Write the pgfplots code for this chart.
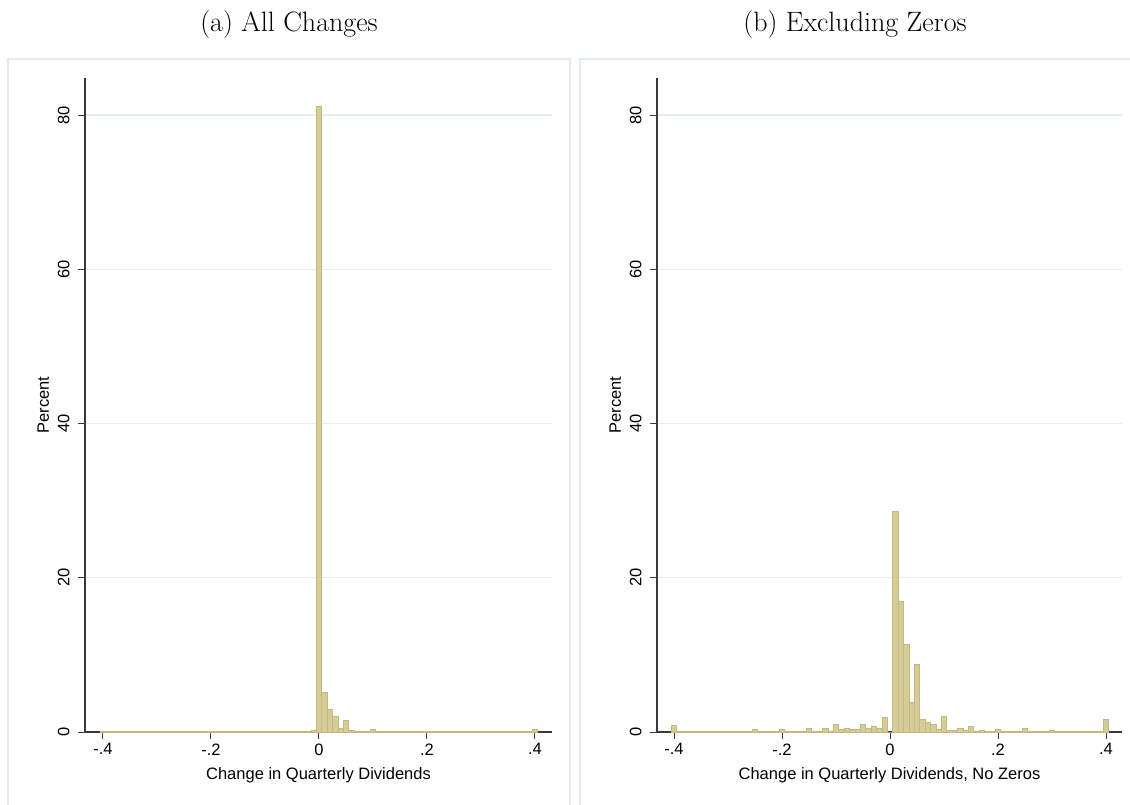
\documentclass[border=0pt]{standalone}
\usepackage{fontspec}
\usepackage{pgfplots}
\pgfplotsset{compat=1.18}
\newfontfamily\arial{Liberation Sans}
\definecolor{barfill}{HTML}{D5CC98}
\definecolor{barline}{HTML}{C2B880}
\definecolor{gridc}{HTML}{E6EEF0}
\definecolor{framec}{HTML}{E2ECEE}
\definecolor{axc}{HTML}{3A3A3A}
\pgfplotsset{
  stata/.style={
    scale only axis, height=654pt,
    anchor=south west,
    axis lines*=left,
    ymin=0, ymax=84.8,
    xtick={-0.4,-0.2,0,0.2,0.4}, xticklabels={-.4,-.2,0,.2,.4},
    ytick={0,20,40,60,80}, yticklabels={0,20,40,60,80},
    tick align=outside, major tick length=7pt,
    every tick/.style={axc, line width=1pt},
    axis line style={axc, line width=1.1pt},
    ymajorgrids, major grid style={gridc, line width=1.3pt},
    tick label style={font=\arial\fontsize{16.5}{19}\selectfont, text=black},
    xticklabel style={yshift=-1pt},
    yticklabel style={xshift=-5pt, rotate=90, anchor=south},
    label style={font=\arial\fontsize{16.5}{19}\selectfont},
    ylabel={Percent}, ylabel shift=2pt, xlabel shift=5pt,
    ybar, bar width=0.01, bar shift=0pt,
  }
}
\begin{document}
\begin{tikzpicture}
\useasboundingbox (0,0) rectangle (1130pt,804pt);
\draw[framec, line width=1.2pt] (8pt,-5pt) -- (8pt,745pt) -- (570pt,745pt) -- (570pt,-5pt);
\draw[framec, line width=1.2pt] (580pt,-5pt) -- (580pt,745pt) -- (1140pt,745pt);
\node at (289pt,779pt) {\fontsize{28}{33}\selectfont (a) All Changes};
\node at (855pt,779pt) {\fontsize{28}{33}\selectfont (b) Excluding Zeros};

\begin{axis}[stata, at={(85pt,72pt)}, width=467pt, xmin=-0.4333, xmax=0.4315,
  xlabel={Change in Quarterly Dividends}]
\addplot[fill=barfill, draw=barline, line width=0.5pt] coordinates {
(-0.40,0.10)(-0.39,0.05)(-0.38,0.05)(-0.37,0.05)(-0.36,0.05)(-0.35,0.05)(-0.34,0.05)(-0.33,0.05)(-0.32,0.05)(-0.31,0.05)
(-0.30,0.05)(-0.29,0.05)(-0.28,0.05)(-0.27,0.05)(-0.26,0.05)(-0.25,0.08)(-0.24,0.05)(-0.23,0.05)(-0.22,0.05)(-0.21,0.05)
(-0.20,0.08)(-0.19,0.05)(-0.18,0.05)(-0.17,0.05)(-0.16,0.05)(-0.15,0.08)(-0.14,0.05)(-0.13,0.05)(-0.12,0.05)(-0.11,0.05)
(-0.10,0.10)(-0.09,0.05)(-0.08,0.05)(-0.07,0.05)(-0.06,0.05)(-0.05,0.10)(-0.04,0.05)(-0.03,0.08)(-0.02,0.05)(-0.01,0.20)
(0.00,81.2)(0.01,5.2)(0.02,3.0)(0.03,2.0)(0.04,0.5)(0.05,1.5)(0.06,0.2)(0.07,0.1)(0.08,0.05)(0.09,0.05)
(0.10,0.30)(0.11,0.05)(0.12,0.05)(0.13,0.05)(0.14,0.05)(0.15,0.08)(0.16,0.05)(0.17,0.05)(0.18,0.05)(0.19,0.05)
(0.20,0.08)(0.21,0.05)(0.22,0.05)(0.23,0.05)(0.24,0.05)(0.25,0.08)(0.26,0.05)(0.27,0.05)(0.28,0.05)(0.29,0.05)
(0.30,0.05)(0.31,0.05)(0.32,0.05)(0.33,0.05)(0.34,0.05)(0.35,0.05)(0.36,0.05)(0.37,0.05)(0.38,0.05)(0.39,0.05)
(0.40,0.30)
};
\end{axis}

\begin{axis}[stata, at={(657pt,72pt)}, width=465pt, xmin=-0.4315, xmax=0.4296,
  xlabel={Change in Quarterly Dividends, No Zeros}]
\addplot[fill=barfill, draw=barline, line width=0.5pt] coordinates {
(-0.40,0.90)(-0.39,0.10)(-0.38,0.10)(-0.37,0.10)(-0.36,0.10)(-0.35,0.10)(-0.34,0.10)(-0.33,0.10)(-0.32,0.10)(-0.31,0.10)
(-0.30,0.10)(-0.29,0.10)(-0.28,0.10)(-0.27,0.10)(-0.26,0.10)(-0.25,0.35)(-0.24,0.10)(-0.23,0.10)(-0.22,0.10)(-0.21,0.10)
(-0.20,0.30)(-0.19,0.10)(-0.18,0.10)(-0.17,0.10)(-0.16,0.10)(-0.15,0.55)(-0.14,0.10)(-0.13,0.10)(-0.12,0.50)(-0.11,0.15)
(-0.10,0.96)(-0.09,0.30)(-0.08,0.50)(-0.07,0.40)(-0.06,0.40)(-0.05,0.96)(-0.04,0.50)(-0.03,0.75)(-0.02,0.50)(-0.01,1.90)
(0.00,0.00)(0.01,28.6)(0.02,17.0)(0.03,11.4)(0.04,3.8)(0.05,8.8)(0.06,1.6)(0.07,1.26)(0.08,1.0)(0.09,0.40)
(0.10,2.00)(0.11,0.20)(0.12,0.20)(0.13,0.50)(0.14,0.20)(0.15,0.70)(0.16,0.10)(0.17,0.20)(0.18,0.10)(0.19,0.10)
(0.20,0.35)(0.21,0.10)(0.22,0.10)(0.23,0.05)(0.24,0.05)(0.25,0.48)(0.26,0.10)(0.27,0.10)(0.28,0.10)(0.29,0.10)
(0.30,0.20)(0.31,0.08)(0.32,0.08)(0.33,0.05)(0.34,0.08)(0.35,0.05)(0.36,0.05)(0.37,0.08)(0.38,0.05)(0.39,0.05)
(0.40,1.60)
};
\end{axis}
\end{tikzpicture}
\end{document}
